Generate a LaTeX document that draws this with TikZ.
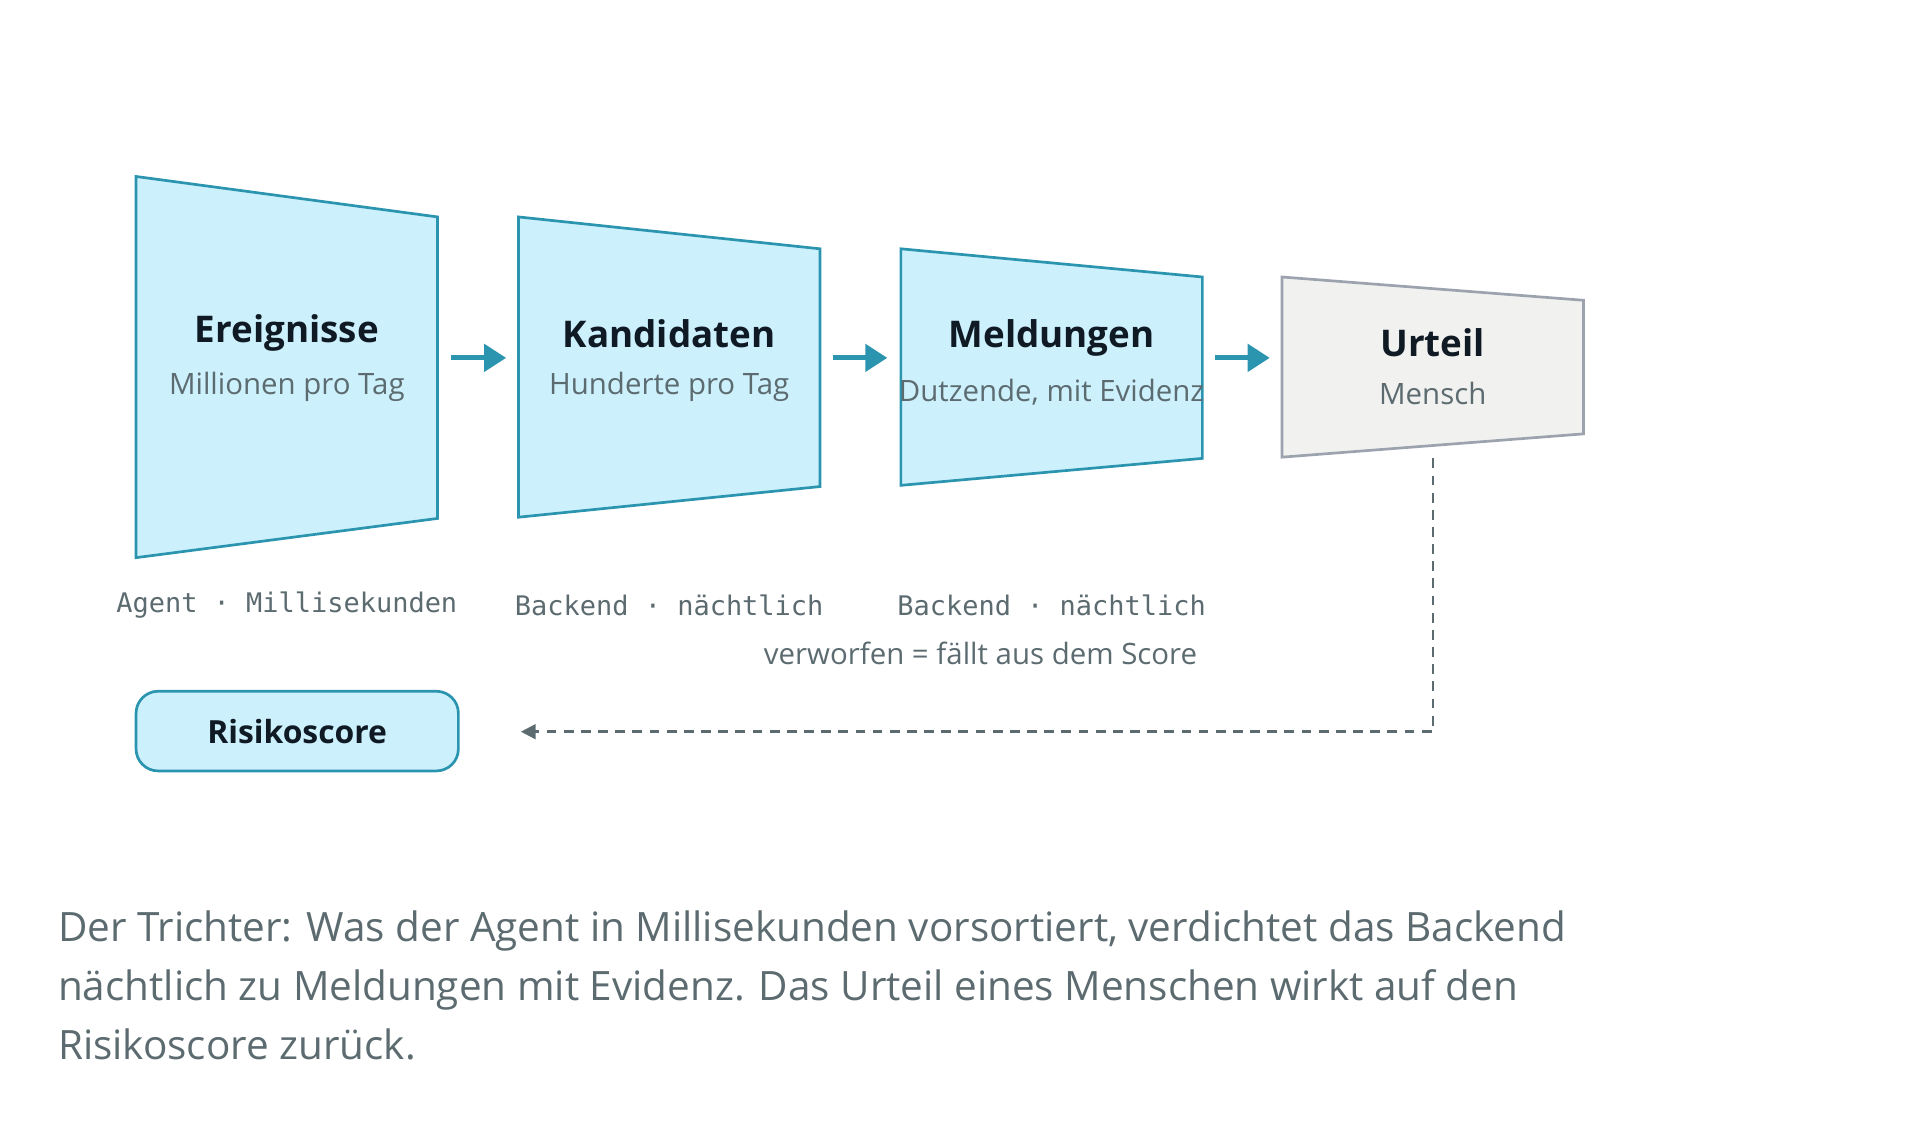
\documentclass[tikz,border=0pt]{standalone}
\usepackage{fontspec}
\setmainfont{Open Sans}
\setmonofont{DejaVu Sans Mono}
\usetikzlibrary{arrows.meta}
\definecolor{cfill}{HTML}{CCF0FC}
\definecolor{cline}{HTML}{2B95B0}
\definecolor{gfill}{HTML}{F1F1EF}
\definecolor{gline}{HTML}{9CA3AF}
\definecolor{tdark}{HTML}{0F1A24}
\definecolor{tgray}{HTML}{5C6B70}
\begin{document}
\begin{tikzpicture}[x=0.5pt,y=-0.5pt,
  stage/.style={fill=cfill,draw=cline,line width=1.1pt},
  gstage/.style={fill=gfill,draw=gline,line width=1.1pt},
  ttl/.style={text=tdark,font=\fontsize{15}{18}\selectfont\bfseries},
  sub/.style={text=tgray,font=\fontsize{12}{14}\selectfont},
  mono/.style={text=tgray,font=\fontsize{11}{13}\selectfont\ttfamily},
  flow/.style={draw=cline,line width=2pt,-{Triangle[length=9pt,width=11pt]}},
  back/.style={draw=tgray,line width=1pt,dash pattern=on 4pt off 3pt,-{Triangle[length=6pt,width=6pt]}}]
\useasboundingbox (0,0) rectangle (1560,924);
\draw[stage] (111,144)--(357,177)--(357,423)--(111,455)--cycle;
\draw[stage] (423,177)--(669,203)--(669,397)--(423,422)--cycle;
\draw[stage] (735,203)--(981,226)--(981,374)--(735,396)--cycle;
\draw[gstage] (1046,226)--(1292,245)--(1292,354)--(1046,373)--cycle;
\node[ttl] (t1) at (234,272) {Ereignisse};
\node[sub] (s1) at (234,316) {Millionen pro Tag};
\node[ttl] (t2) at (546,272) {Kandidaten};
\node[sub] (s2) at (546,316) {Hunderte pro Tag};
\node[ttl] (t3) at (858,276) {Meldungen};
\node[sub] (s3) at (858,320) {Dutzende, mit Evidenz};
\node[ttl] (t4) at (1169,280) {Urteil};
\node[sub] (s4) at (1169,321) {Mensch};
\coordinate (a1) at (368,292); \coordinate (b1) at (413,292);
\coordinate (a2) at (680,292); \coordinate (b2) at (724,292);
\coordinate (a3) at (991,292); \coordinate (b3) at (1036,292);
\draw[flow] (a1)--(b1); \draw[flow] (a2)--(b2); \draw[flow] (a3)--(b3);
\node[mono] (m1) at (234,494) {Agent · Millisekunden};
\node[mono] (m2) at (546,494) {Backend · nächtlich};
\node[mono] (m3) at (858,494) {Backend · nächtlich};
\node[sub] (v) at (800,533) {verworfen = fällt aus dem Score};
\node[fill=cfill,draw=cline,line width=1.1pt,rounded corners=9pt,minimum width=131.5pt,minimum height=32.5pt,text=tdark,font=\fontsize{13}{15}\selectfont\bfseries] (r) at (242.5,596.5) {Risikoscore};
\coordinate (u) at (1169,374); \coordinate (c) at (1169,597); \coordinate (e) at (425,597);
\draw[back] (u)--(c)--(e);
\node[anchor=north west,align=left,text=tgray,font=\fontsize{16.5}{24}\selectfont,inner sep=0pt] (cap) at (47,743) {Der Trichter: Was der Agent in Millisekunden vorsortiert, verdichtet das Backend\\nächtlich zu Meldungen mit Evidenz. Das Urteil eines Menschen wirkt auf den\\Risikoscore zurück.};
\end{tikzpicture}
\end{document}
